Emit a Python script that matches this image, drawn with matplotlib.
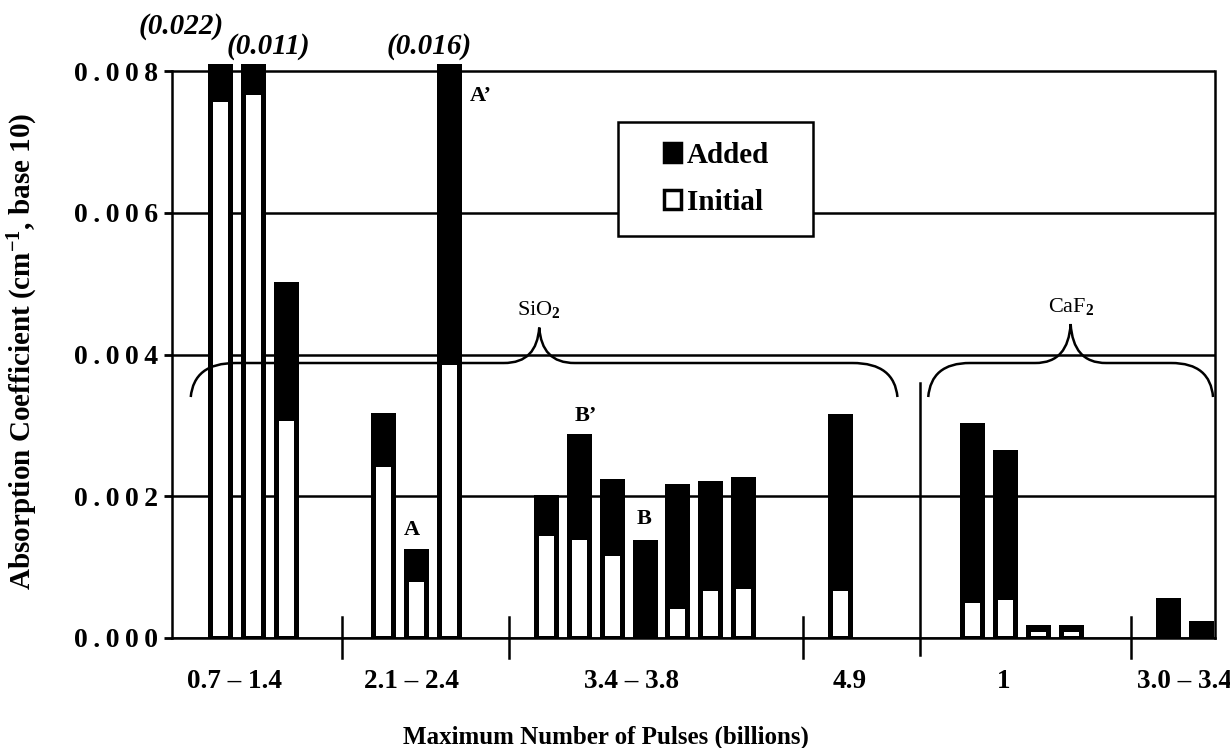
import matplotlib.pyplot as plt
from matplotlib.patches import Patch, PathPatch, Rectangle
from matplotlib.path import Path
from matplotlib.ticker import FuncFormatter
import matplotlib.transforms as mtransforms

plt.rcParams['font.family'] = ['Liberation Serif', 'DejaVu Serif']
plt.rcParams['font.weight'] = 'bold'
plt.rcParams['mathtext.fontset'] = 'custom'
plt.rcParams['mathtext.rm'] = 'Liberation Serif:bold'
plt.rcParams['mathtext.it'] = 'Liberation Serif:bold:italic'
plt.rcParams['mathtext.bf'] = 'Liberation Serif:bold'

# groups of samples along the x axis
group_labels = ['0.7 – 1.4', '2.1 – 2.4', '3.4 – 3.8', '4.9', '1', '3.0 – 3.4']
group_sizes = [3, 3, 7, 1, 4, 2]
group_material = ['SiO$_2$', 'SiO$_2$', 'SiO$_2$', 'SiO$_2$', 'CaF$_2$', 'CaF$_2$']

# absorption coefficient per sample (cm^-1, base 10)
initial = [0.0076, 0.0077, 0.0031,
           0.00246, 0.00083, 0.0039,
           0.00148, 0.00143, 0.0012, 0.0, 0.00045, 0.0007, 0.00074,
           0.00071,
           0.00054, 0.00058, 0.00013, 0.00013,
           0.0, 0.0]
added = [0.0144, 0.0033, 0.0019,
         0.00069, 0.0004, 0.0121,
         0.00051, 0.00142, 0.00102, 0.00136, 0.0017, 0.00148, 0.00151,
         0.00242,
         0.00246, 0.00205, 0.00003, 0.00003,
         0.00053, 0.00021]

# letters put on some bars
bar_marks = {4: 'A', 5: 'A’', 7: 'B’', 9: 'B'}

ytop = 0.008

# bar positions: fixed pitch inside a group, wider gap between groups
pitch = 1.015
pos, group_first, group_last = [], [], []
x = 1.48
for gi, n in enumerate(group_sizes):
    if gi > 0:
        step = 4.07 if group_material[gi] != group_material[gi - 1] else 3.0
        x = pos[-1] + step
    group_first.append(len(pos))
    for k in range(n):
        pos.append(x + k * pitch)
    group_last.append(len(pos) - 1)
# group labels sit a little off the group centres in the original
label_shift = [-0.58, -0.12, -0.4, 0.3, -0.55, 0.0]
centers = [(pos[a] + pos[b]) / 2 + s for a, b, s in zip(group_first, group_last, label_shift)]

fig = plt.figure(figsize=(12.3, 7.48), dpi=100)
ax = fig.add_axes([0.1398, 0.1471, 0.848, 0.7674])

w = 0.62
ax.bar(pos, initial, width=w, color='white', edgecolor='black', linewidth=3.6, zorder=3)
ax.bar(pos, added, bottom=initial, width=w, color='black', edgecolor='black', linewidth=3.6, zorder=3)

ax.set_xlim(0, 32.19)
ax.set_ylim(0, ytop * 1.0125)
ax.set_yticks([0, 0.002, 0.004, 0.006, 0.008])
ax.yaxis.set_major_formatter(FuncFormatter(lambda v, p: '\u2009'.join(f'{v:.3f}')))
ax.yaxis.grid(True, color='black', linewidth=1.8)
ax.set_axisbelow(True)
ax.tick_params(axis='y', length=6, width=2, labelsize=20, pad=4)
ax.set_xticks(centers)
ax.set_xticklabels(group_labels)
ax.tick_params(axis='x', length=0, labelsize=19.5, pad=22)
for s in ['left', 'bottom', 'right']:
    ax.spines[s].set_linewidth(1.8)
ax.spines['top'].set_visible(False)
ax.spines['right'].set_bounds(0, ytop)
ax.spines['left'].set_bounds(0, ytop)

# separators between groups, full divider between materials
trans = mtransforms.blended_transform_factory(ax.transData, ax.transAxes)
divider = None
for gi in range(len(group_sizes) - 1):
    xl = pos[group_last[gi]]
    if group_material[gi] != group_material[gi + 1]:
        divider = xl + 2.47
        ax.plot([divider, divider], [-0.03, 0.444], transform=trans, color='black',
                lw=1.8, clip_on=False, zorder=4)
    else:
        sx = xl + (1.75 if gi == 0 else 1.85)
        ax.plot([sx, sx], [-0.035, 0.037], transform=trans, color='black',
                lw=1.8, clip_on=False, zorder=4)

# true values of bars that go off the top
off_offsets = {0: (-28, 22), 1: (11, 8), 5: (-14, 8)}
for i, (a, b) in enumerate(zip(initial, added)):
    if a + b > ytop:
        dx, dy = off_offsets.get(i, (0, 10))
        ax.annotate(f'({a + b:.3f})', (pos[i], ytop), xytext=(dx, dy), textcoords='offset points',
                    ha='center', va='bottom', fontsize=21, style='italic', annotation_clip=False)

mark_offsets = {4: (-3, 8), 5: (23, -25), 7: (5, 7), 9: (0, 9)}
for i, t in bar_marks.items():
    top = min(initial[i] + added[i], ytop)
    dx, dy = mark_offsets[i]
    ax.annotate(t, (pos[i], top), xytext=(dx, dy), textcoords='offset points',
                ha='center', va='bottom', fontsize=16)


def brace(x0, x1, xm, y, d, t, r, wt, label):
    verts = [(x0, y - d), (x0 + 0.05 * r, y - 0.35 * d), (x0 + 0.35 * r, y), (x0 + r, y),
             (xm - wt, y),
             (xm - 0.35 * wt, y), (xm - 0.05 * wt, y + 0.35 * t), (xm, y + t),
             (xm + 0.05 * wt, y + 0.35 * t), (xm + 0.35 * wt, y), (xm + wt, y),
             (x1 - r, y),
             (x1 - 0.35 * r, y), (x1 - 0.05 * r, y - 0.35 * d), (x1, y - d)]
    codes = [Path.MOVETO, Path.CURVE4, Path.CURVE4, Path.CURVE4,
             Path.LINETO,
             Path.CURVE4, Path.CURVE4, Path.CURVE4,
             Path.CURVE4, Path.CURVE4, Path.CURVE4,
             Path.LINETO,
             Path.CURVE4, Path.CURVE4, Path.CURVE4]
    ax.add_patch(PathPatch(Path(verts, codes), fill=False, lw=1.8, color='black', zorder=5,
                           clip_on=False))
    ax.text(xm, y + t + 0.0001, label, ha='center', va='bottom', fontsize=16,
            fontweight='normal')


sio_x0 = pos[0] - 0.9
sio_x1 = divider - 0.71
brace(sio_x0, sio_x1, (sio_x0 + sio_x1) / 2 - 0.15, 0.00388, 0.00048, 0.0005,
      1.4, 1.1, group_material[0])
caf_x0 = divider + 0.24
caf_x1 = 32.13
brace(caf_x0, caf_x1, (caf_x0 + caf_x1) / 2, 0.00388, 0.00048, 0.00055, 1.3, 1.1,
      group_material[-1])

# legend in a white box
ax.add_patch(Rectangle((0.4276, 0.700), 0.187, 0.199, transform=ax.transAxes,
                       facecolor='white', edgecolor='black', lw=1.8, zorder=6))
handles = [Patch(facecolor='black', edgecolor='black', lw=2.5),
           Patch(facecolor='white', edgecolor='black', lw=2.5)]
leg = ax.legend(handles, ['Added', 'Initial'], loc='center', bbox_to_anchor=(0.522, 0.80),
                frameon=False, fontsize=21, handlelength=0.6, handleheight=0.6,
                handletextpad=0.2, labelspacing=0.7)
leg.set_zorder(7)

fig.text(0.019, 0.53, 'Absorption Coefficient (cm$^{-1}$, base 10)', rotation=90,
         ha='center', va='center', fontsize=21)
fig.text(0.493, 0.006, 'Maximum Number of Pulses (billions)', ha='center', va='baseline',
         fontsize=18)

fig.savefig('out.png', dpi=100)
